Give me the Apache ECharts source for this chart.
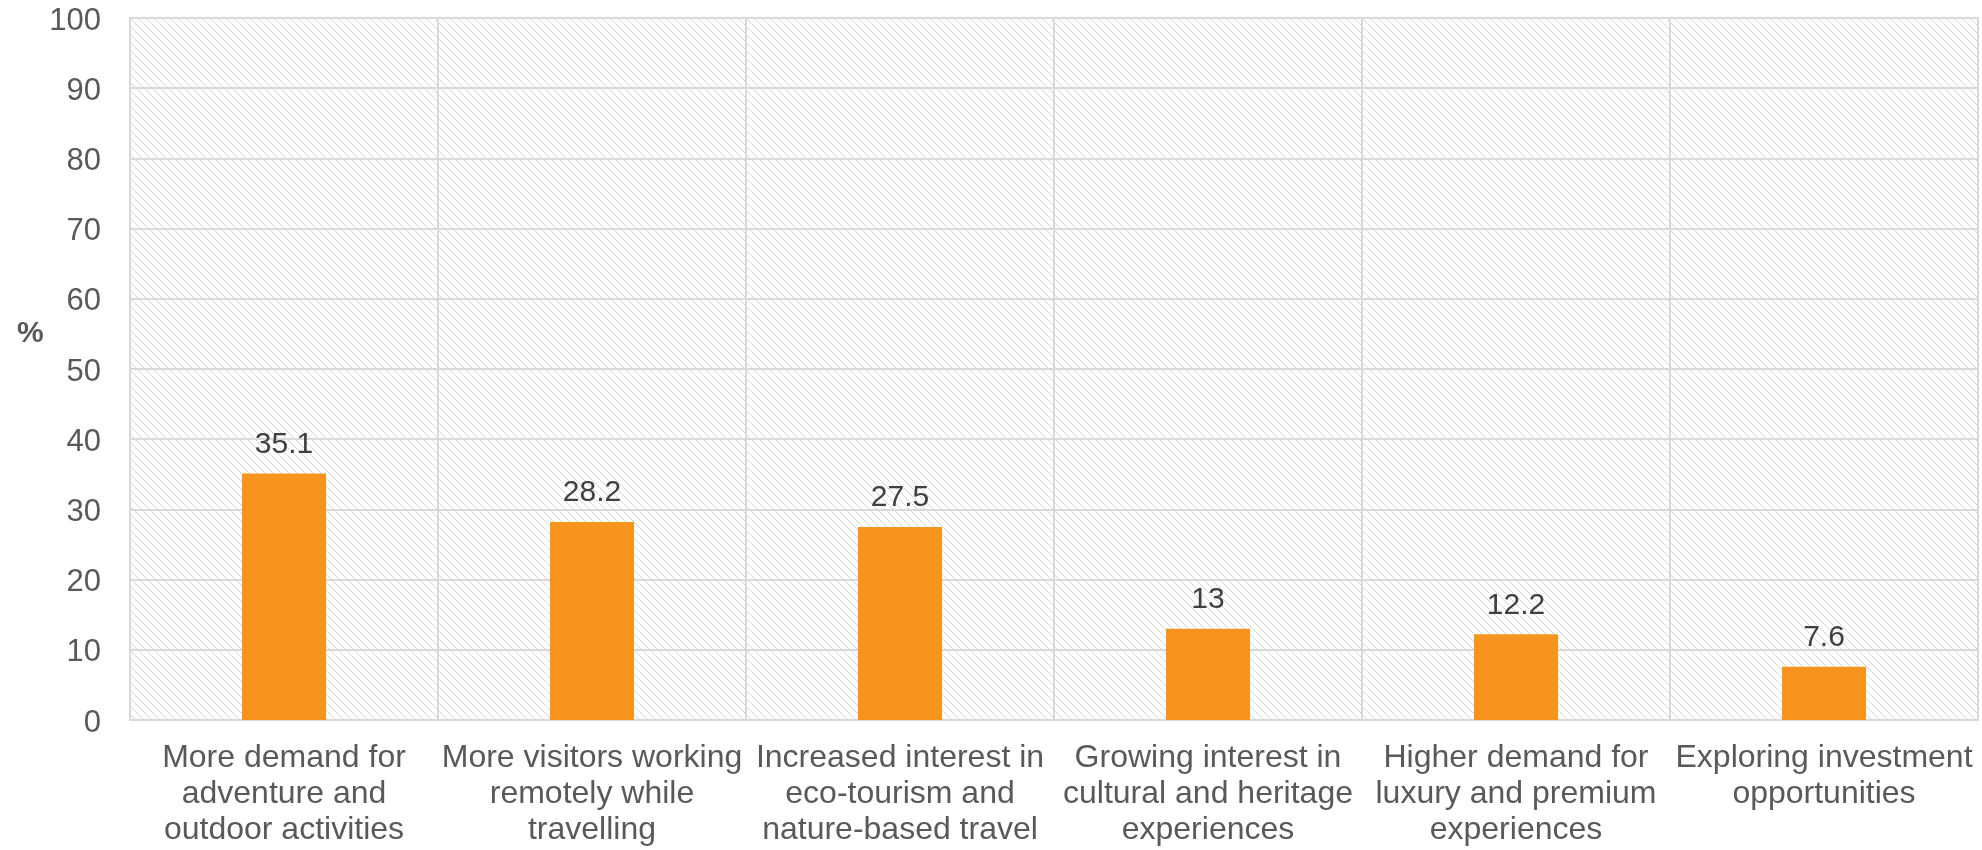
<!DOCTYPE html>
<html>
<head>
<meta charset="utf-8">
<script src="https://cdn.jsdelivr.net/npm/echarts@6/dist/echarts.min.js"></script>
<style>
  html, body { margin: 0; padding: 0; background: #ffffff; }
  #chart { width: 1982px; height: 850px; }
</style>
</head>
<body>
<div id="chart"></div>
<script>
// Survey responses: share of respondents (%) per expected travel trend
const categories = [
  'More demand for\nadventure and\noutdoor activities',
  'More visitors working\nremotely while\ntravelling',
  'Increased interest in\neco-tourism and\nnature-based travel',
  'Growing interest in\ncultural and heritage\nexperiences',
  'Higher demand for\nluxury and premium\nexperiences',
  'Exploring investment\nopportunities'
];
const shares = [35.1, 28.2, 27.5, 13, 12.2, 7.6];
const yTicks = { min: 0, max: 100, step: 10 };

const FONT = 'Arial, "Liberation Sans", sans-serif';

// Light diagonal hatch used to fill the plot area
function makeHatch() {
  const c = document.createElement('canvas');
  const n = 8;
  c.width = n; c.height = n;
  const ctx = c.getContext('2d');
  ctx.fillStyle = '#ffffff';
  ctx.fillRect(0, 0, n, n);
  for (let i = 0; i < n; i++) {
    ctx.fillStyle = (i % 2 === 0) ? '#cccccc' : '#dedede';
    ctx.fillRect(i, i, 1, 1);
  }
  return c;
}

const chart = echarts.init(document.getElementById('chart'), null, { renderer: 'canvas' });

chart.setOption({
  animation: false,
  title: {
    text: '%',
    left: 12,
    top: 314,
    textStyle: { fontFamily: FONT, fontSize: 30, fontWeight: 'bold', color: '#595959' }
  },
  grid: {
    left: 130,
    right: 4,
    top: 18,
    bottom: 130,
    outerBoundsMode: 'none',
    containLabel: false,
    show: true,
    backgroundColor: { image: makeHatch(), repeat: 'repeat' },
    borderColor: '#d9d9d9',
    borderWidth: 2
  },
  xAxis: {
    type: 'category',
    data: categories,
    boundaryGap: true,
    axisLine: { show: true, lineStyle: { color: '#d9d9d9', width: 2 } },
    axisTick: { show: false },
    splitLine: { show: true, lineStyle: { color: '#d9d9d9', width: 2 } },
    axisLabel: {
      interval: 0,
      margin: 20,
      fontFamily: FONT,
      fontSize: 32,
      lineHeight: 36,
      color: '#595959',
      align: 'center'
    }
  },
  yAxis: {
    type: 'value',
    min: yTicks.min,
    max: yTicks.max,
    interval: yTicks.step,
    axisLine: { show: false },
    axisTick: { show: false },
    splitLine: { show: true, lineStyle: { color: '#d9d9d9', width: 2 } },
    axisLabel: {
      margin: 29,
      formatter: '{t|{value}}',
      rich: {
        t: {
          fontFamily: FONT,
          fontSize: 31,
          color: '#595959',
          padding: [6, 0, 0, 0]
        }
      }
    }
  },
  series: [{
    type: 'bar',
    data: shares,
    barWidth: '27.3%',
    itemStyle: { color: '#F7941D' },
    label: {
      show: true,
      position: 'top',
      distance: 14,
      fontFamily: FONT,
      fontSize: 30,
      color: '#404040'
    }
  }]
});
</script>
</body>
</html>
